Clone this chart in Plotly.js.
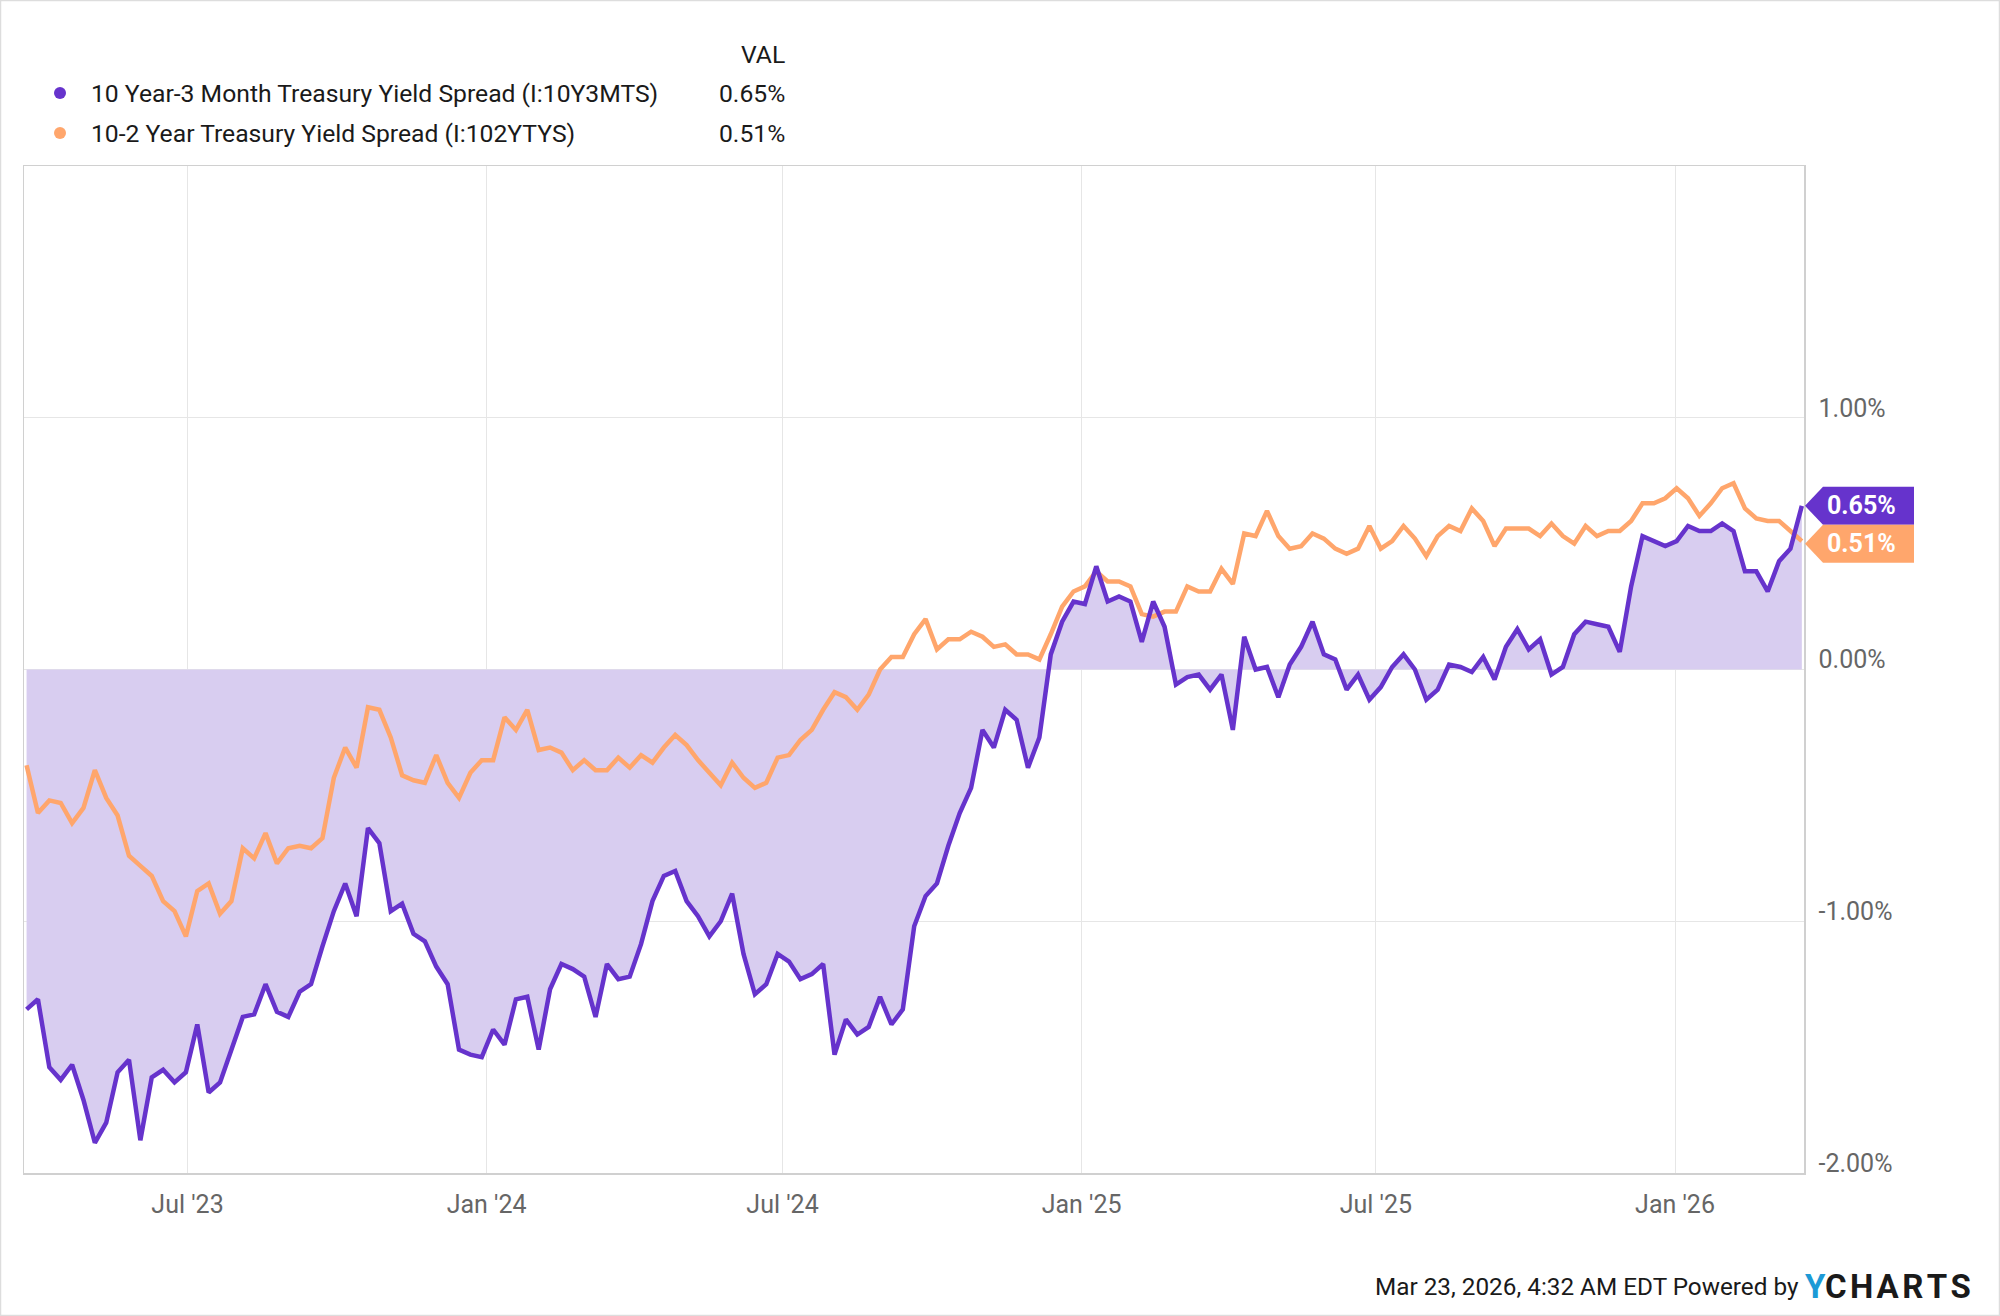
<!DOCTYPE html>
<html>
<head>
<meta charset="utf-8">
<script src="https://cdn.plot.ly/plotly-3.0.1.min.js"></script>
<style>
  html, body { margin: 0; padding: 0; background: #fff; }
  #plot { width: 2000px; height: 1316px; }
</style>
</head>
<body>
<div id="plot"></div>
<script>
// 週次データ（金曜日）
const startDate = "2023-03-24";

// 10 Year-3 Month (I:10Y3MTS)
const spread10y3m = [
  -1.35, -1.31, -1.58, -1.63, -1.57, -1.71, -1.88, -1.80, -1.60, -1.55,
  -1.87, -1.62, -1.59, -1.64, -1.60, -1.41, -1.68, -1.64, -1.51, -1.38,
  -1.37, -1.25, -1.36, -1.38, -1.28, -1.25, -1.10, -0.96, -0.85, -0.98,
  -0.63, -0.69, -0.96, -0.93, -1.05, -1.08, -1.18, -1.25, -1.51, -1.53,
  -1.54, -1.43, -1.49, -1.31, -1.30, -1.51, -1.27, -1.17, -1.19, -1.22,
  -1.38, -1.17, -1.23, -1.22, -1.09, -0.92, -0.82, -0.80, -0.92, -0.98,
  -1.06, -1.00, -0.89, -1.13, -1.29, -1.25, -1.13, -1.16, -1.23, -1.21,
  -1.17, -1.53, -1.39, -1.45, -1.42, -1.30, -1.41, -1.35, -1.02, -0.90,
  -0.85, -0.70, -0.57, -0.47, -0.24, -0.31, -0.16, -0.20, -0.39, -0.27,
  0.06, 0.19, 0.27, 0.26, 0.41, 0.27, 0.29, 0.27, 0.11, 0.27,
  0.17, -0.06, -0.03, -0.02, -0.08, -0.02, -0.24, 0.13, 0.00, 0.01,
  -0.11, 0.02, 0.09, 0.19, 0.06, 0.04, -0.08, -0.02, -0.12, -0.07,
  0.01, 0.06, 0.00, -0.12, -0.08, 0.02, 0.01, -0.01, 0.05, -0.04,
  0.09, 0.16, 0.08, 0.12, -0.02, 0.01, 0.14, 0.19, 0.18, 0.17,
  0.07, 0.33, 0.53, 0.51, 0.49, 0.51, 0.57, 0.55, 0.55, 0.58,
  0.55, 0.39, 0.39, 0.31, 0.43, 0.48, 0.65
];

// 10-2 Year (I:102YTYS)
const spread10y2y = [
  -0.38, -0.57, -0.52, -0.53, -0.61, -0.55, -0.40, -0.51, -0.58, -0.74,
  -0.78, -0.82, -0.92, -0.96, -1.06, -0.88, -0.85, -0.97, -0.92, -0.71,
  -0.75, -0.65, -0.77, -0.71, -0.70, -0.71, -0.67, -0.43, -0.31, -0.39,
  -0.15, -0.16, -0.27, -0.42, -0.44, -0.45, -0.34, -0.45, -0.51, -0.41,
  -0.36, -0.36, -0.19, -0.24, -0.16, -0.32, -0.31, -0.33, -0.40, -0.36,
  -0.40, -0.40, -0.35, -0.39, -0.34, -0.37, -0.31, -0.26, -0.30, -0.36,
  -0.41, -0.46, -0.37, -0.43, -0.47, -0.45, -0.35, -0.34, -0.28, -0.24,
  -0.16, -0.09, -0.11, -0.16, -0.10, 0.00, 0.05, 0.05, 0.14, 0.20,
  0.08, 0.12, 0.12, 0.15, 0.13, 0.09, 0.10, 0.06, 0.06, 0.04,
  0.14, 0.25, 0.31, 0.33, 0.39, 0.35, 0.35, 0.33, 0.22, 0.21,
  0.23, 0.23, 0.33, 0.31, 0.31, 0.40, 0.34, 0.54, 0.53, 0.63,
  0.53, 0.48, 0.49, 0.54, 0.52, 0.48, 0.46, 0.48, 0.57, 0.48,
  0.51, 0.57, 0.52, 0.45, 0.53, 0.57, 0.55, 0.64, 0.59, 0.49,
  0.56, 0.56, 0.56, 0.53, 0.58, 0.53, 0.50, 0.57, 0.53, 0.55,
  0.55, 0.59, 0.66, 0.66, 0.68, 0.72, 0.68, 0.61, 0.66, 0.72,
  0.74, 0.64, 0.60, 0.59, 0.59, 0.55, 0.51
];

const seriesNames = [
  "10 Year-3 Month Treasury Yield Spread (I:10Y3MTS)",
  "10-2 Year Treasury Yield Spread (I:102YTYS)"
];
const seriesColors = ["#6633cc", "#ffa66c"];

const yTickVals = [-2, -1, 0, 1];
const yTickText = ["-2.00%", "-1.00%", "0.00%", "1.00%"];
const xTickVals = ["2023-07-01", "2024-01-01", "2024-07-01", "2025-01-01", "2025-07-01", "2026-01-01"];
const xTickText = ["Jul '23", "Jan '24", "Jul '24", "Jan '25", "Jul '25", "Jan '26"];
const xRange = ["2023-03-22 10:00", "2026-03-21 08:00"];
const footerText = "Mar 23, 2026, 4:32 AM EDT Powered by";

// 日付の配列を作成
const dates = [];
const d0 = new Date(startDate + "T00:00:00Z");
for (let i = 0; i < spread10y3m.length; i++) {
  const d = new Date(d0.getTime() + i * 7 * 86400000);
  dates.push(d.toISOString().slice(0, 10));
}

// ピクセル -> paper 座標
const L = 24, R = 1804, T = 166, B = 1173;
function px(X) { return (X - L) / (R - L); }
function py(Y) { return (B - Y) / (B - T); }

const font = "Roboto, sans-serif";
const last3m = spread10y3m[spread10y3m.length - 1];
const last2y = spread10y2y[spread10y2y.length - 1];

// 右側のバッジ（高さ 38px）
const unitPx = (B - T) / 4;
const halfH = 19 / unitPx;
const c3m = last3m;
const c2y = Math.min(last2y, c3m - 2 * halfH);

function badgePath(yc) {
  const xt = px(1805), xs = px(1823), xr = px(1914);
  return `M ${xt},${yc} L ${xs},${yc + halfH} L ${xr},${yc + halfH} L ${xr},${yc - halfH} L ${xs},${yc - halfH} Z`;
}

const traces = [
  {
    // 塗りつぶし
    x: dates, y: spread10y3m, type: "scatter", mode: "lines",
    fill: "tozeroy", fillcolor: "rgb(216,205,240)",
    line: { width: 0, color: "rgba(0,0,0,0)" },
    hoverinfo: "skip", showlegend: false
  },
  {
    x: dates, y: spread10y2y, type: "scatter", mode: "lines",
    line: { width: 4.5, color: seriesColors[1] },
    name: seriesNames[1], showlegend: false
  },
  {
    x: dates, y: spread10y3m, type: "scatter", mode: "lines",
    line: { width: 4.5, color: seriesColors[0] },
    name: seriesNames[0], showlegend: false
  }
];

const annotations = [
  { text: "VAL", x: px(787), y: py(54), xanchor: "right" },
  { text: seriesNames[0], x: px(89), y: py(93), xanchor: "left" },
  { text: seriesNames[1], x: px(89), y: py(133), xanchor: "left" },
  { text: last3m.toFixed(2) + "%", x: px(787), y: py(93), xanchor: "right" },
  { text: last2y.toFixed(2) + "%", x: px(787), y: py(133), xanchor: "right" }
].map(a => Object.assign({
  xref: "paper", yref: "paper", yanchor: "middle", showarrow: false,
  font: { family: font, size: 24.7, color: "#1a1a1a" }
}, a));

// フッター
annotations.push({
  text: footerText, xref: "paper", yref: "paper", x: px(1801), y: py(1286),
  xanchor: "right", yanchor: "middle", showarrow: false,
  font: { family: font, size: 24.3, color: "#1a1a1a" }
});

// ロゴ
annotations.push({
  text: "<b><span style='color:#1c9ad6'>Y</span>C\u200aH\u200aA\u200aR\u200aT\u200aS</b>",
  xref: "paper", yref: "paper", x: px(1803), y: py(1286),
  xanchor: "left", yanchor: "middle", showarrow: false,
  font: { family: font, size: 33, color: "#1a1a1a" }
});

// バッジの文字
[[c3m, last3m], [c2y, last2y]].forEach(([yc, v]) => {
  annotations.push({
    text: "<b>" + v.toFixed(2) + "%</b>",
    xref: "paper", yref: "y", x: px(1861), y: yc,
    xanchor: "center", yanchor: "middle", showarrow: false,
    font: { family: font, size: 25, color: "#ffffff" }
  });
});

const shapes = [
  // 凡例の丸
  { type: "circle", xref: "paper", yref: "paper",
    x0: px(54), x1: px(66), y0: py(99), y1: py(87),
    fillcolor: seriesColors[0], line: { width: 0 } },
  { type: "circle", xref: "paper", yref: "paper",
    x0: px(54), x1: px(66), y0: py(139), y1: py(127),
    fillcolor: seriesColors[1], line: { width: 0 } },
  // バッジ
  { type: "path", xref: "paper", yref: "y", path: badgePath(c3m),
    fillcolor: seriesColors[0], line: { width: 0 } },
  { type: "path", xref: "paper", yref: "y", path: badgePath(c2y),
    fillcolor: seriesColors[1], line: { width: 0 } },
  // 外枠
  { type: "rect", xref: "paper", yref: "paper",
    x0: px(0.5), x1: px(1999.5), y0: py(1315.5), y1: py(0.5),
    line: { width: 1.5, color: "#dddddd" }, fillcolor: "rgba(0,0,0,0)" }
];

const layout = {
  width: 2000,
  height: 1316,
  margin: { l: L, r: 2000 - R, t: T, b: 1316 - B },
  paper_bgcolor: "#ffffff",
  plot_bgcolor: "#ffffff",
  showlegend: false,
  hovermode: false,
  font: { family: font },
  xaxis: {
    type: "date",
    range: xRange,
    tickvals: xTickVals,
    ticktext: xTickText,
    showgrid: true,
    gridcolor: "#e6e6e6",
    gridwidth: 1,
    showline: true,
    linecolor: "#d0d0d0",
    linewidth: 1.5,
    mirror: true,
    zeroline: false,
    ticks: "",
    ticklabelstandoff: 8,
    tickfont: { family: font, size: 25, color: "#666666" }
  },
  yaxis: {
    side: "right",
    range: [-2, 2],
    tickvals: yTickVals,
    ticktext: yTickText,
    showgrid: true,
    gridcolor: "#e6e6e6",
    gridwidth: 1,
    showline: true,
    linecolor: "#d0d0d0",
    linewidth: 1.5,
    mirror: true,
    zeroline: false,
    ticks: "",
    ticklabelstandoff: 8,
    ticklabelshift: -10,
    tickfont: { family: font, size: 25, color: "#666666" }
  },
  annotations: annotations,
  shapes: shapes
};

Plotly.newPlot("plot", traces, layout, { staticPlot: true, displayModeBar: false });
</script>
</body>
</html>
